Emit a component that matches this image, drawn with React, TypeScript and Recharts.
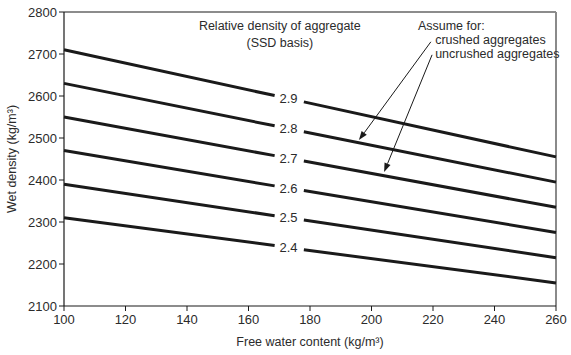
import React from 'react'
import { LineChart, Line, XAxis, YAxis, Scatter, ReferenceLine } from 'recharts'

// free water content break points (gap left for the density labels)
const WATER = [100, 168.5, 173, 178, 260]

// wet density at each break point, per relative density of aggregate
const D29 = [2710, 2601, null, 2586, 2455]
const D28 = [2630, 2529, null, 2515, 2395]
const D27 = [2550, 2458, null, 2445, 2335]
const D26 = [2470, 2386, null, 2375, 2275]
const D25 = [2390, 2315, null, 2305, 2215]
const D24 = [2310, 2244, null, 2234, 2155]

const SERIES = [
  { name: '2.9', vals: D29 },
  { name: '2.8', vals: D28 },
  { name: '2.7', vals: D27 },
  { name: '2.6', vals: D26 },
  { name: '2.5', vals: D25 },
  { name: '2.4', vals: D24 },
]

const X_TICKS = [100, 120, 140, 160, 180, 200, 220, 240, 260]
const Y_TICKS = [2100, 2200, 2300, 2400, 2500, 2600, 2700, 2800]

const LABELS = SERIES.map((s) => ({ x: WATER[2], y: (s.vals[1]! + s.vals[3]!) / 2, t: s.name }))

const NOTES = [
  { x: 170.2, y: 2767, t: 'Relative density of aggregate', a: 'middle' },
  { x: 170.2, y: 2727, t: '(SSD basis)', a: 'middle' },
  { x: 215.1, y: 2767, t: 'Assume for:', a: 'start' },
  { x: 220.7, y: 2734, t: 'crushed aggregates', a: 'start' },
  { x: 220.7, y: 2701, t: 'uncrushed aggregates', a: 'start' },
]

const ARROWS = [
  [{ x: 219.3, y: 2729 }, { x: 195.9, y: 2495 }],
  [{ x: 219.7, y: 2698 }, { x: 204.1, y: 2419 }],
]

const FONT = '"Liberation Sans", Arial, sans-serif'
const INK = '#1a1a1a'
const TXT = '#2b2b2b'

const Arrow = (p: any) => {
  const { x1, y1, x2, y2 } = p
  const ang = Math.atan2(y2 - y1, x2 - x1)
  const L = 9, W = 3.2
  const bx = x2 - L * Math.cos(ang), by = y2 - L * Math.sin(ang)
  const nx = -Math.sin(ang) * W, ny = Math.cos(ang) * W
  return (
    <g>
      <line x1={x1} y1={y1} x2={bx} y2={by} stroke={INK} strokeWidth={1} />
      <polygon points={`${x2},${y2} ${bx + nx},${by + ny} ${bx - nx},${by - ny}`} fill={INK} />
    </g>
  )
}

export default function App() {
  return (
    <div style={{ position: 'absolute', left: 0, top: 0, background: '#fff' }}>
      <LineChart width={571} height={355} margin={{ top: 12, right: 15, left: 0, bottom: 0 }}>
        <XAxis type="number" dataKey="x" domain={[100, 260]} ticks={X_TICKS} height={49}
          allowDuplicatedCategory={false} tickMargin={4}
          tick={{ fill: TXT, fontSize: 13, fontFamily: FONT }} tickSize={5}
          stroke={INK} axisLine={{ stroke: INK, strokeWidth: 1.2 }}
          label={{ value: 'Free water content (kg/m³)', position: 'insideBottom', offset: 9, fill: TXT, fontSize: 12.5, fontFamily: FONT }} />
        <YAxis type="number" dataKey="y" domain={[2100, 2800]} ticks={Y_TICKS} width={64}
          tick={{ fill: TXT, fontSize: 13, fontFamily: FONT }} tickSize={5}
          stroke={INK} axisLine={{ stroke: INK, strokeWidth: 1.2 }}
          label={{ value: 'Wet density (kg/m³)', angle: -90, position: 'center', dx: -20, fill: TXT, fontSize: 12.5, fontFamily: FONT }} />
        <ReferenceLine y={2800} stroke={INK} strokeWidth={1.2} />
        <ReferenceLine x={260} stroke="#8a8a8a" strokeWidth={2} />
        {SERIES.map((s) => (
          <Line key={s.name} data={WATER.map((x, i) => ({ x, y: s.vals[i] }))} dataKey="y"
            stroke={INK} strokeWidth={3} dot={false} isAnimationActive={false} connectNulls={false} />
        ))}
        <Scatter data={LABELS} dataKey="y" isAnimationActive={false}
          shape={(p: any) => (
            <text x={p.cx} y={p.cy} textAnchor="middle" dominantBaseline="central" fill={TXT} fontSize={13} fontFamily={FONT}>{p.payload.t}</text>
          )} />
        <Scatter data={NOTES} dataKey="y" isAnimationActive={false}
          shape={(p: any) => (
            <text x={p.cx} y={p.cy} textAnchor={p.payload.a} dominantBaseline="central" fill={TXT} fontSize={12.5} fontFamily={FONT}>{p.payload.t}</text>
          )} />
        {ARROWS.map((seg, i) => (
          <ReferenceLine key={i} segment={seg} ifOverflow="visible" shape={Arrow} />
        ))}
      </LineChart>
    </div>
  )
}
